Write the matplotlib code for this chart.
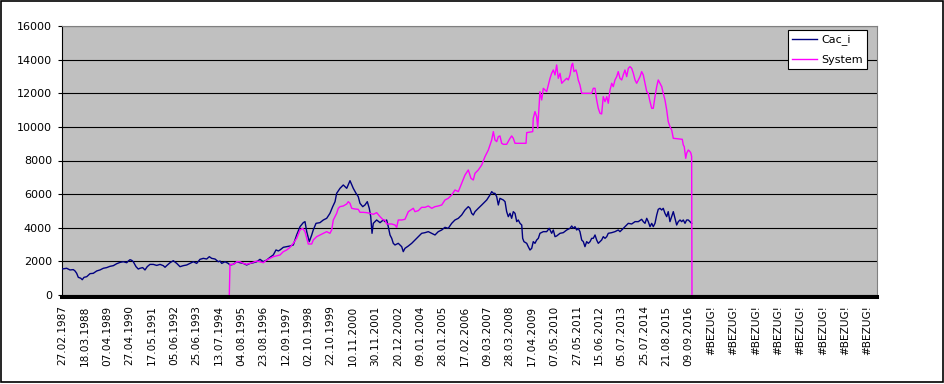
import matplotlib
matplotlib.use("Agg")
import matplotlib.pyplot as plt
from matplotlib.patches import Rectangle

plt.rcParams["font.family"] = ["DejaVu Sans"]

# ---- data (x = trading-day index on the category axis) ----
cac_x = [0, 51, 89, 128, 148, 167, 186, 214, 232, 252, 284, 322, 360, 400, 438, 477, 516, 554, 593, 632,
         671, 709, 749, 767, 787, 807, 825, 857, 883, 903, 934, 961, 988, 1019, 1058, 1097, 1136, 1174, 1194, 1213,
         1252, 1290,
         1330, 1368, 1406, 1446, 1484, 1523, 1562, 1600, 1639, 1678, 1709, 1736, 1775, 1813, 1833, 1853, 1891, 1929,
         1949, 1988, 2027, 2065, 2104, 2143, 2182, 2220, 2260, 2298, 2336, 2376, 2414, 2452, 2484, 2511,
         2530, 2569, 2608, 2647, 2685, 2724, 2763, 2801, 2821, 2841, 2871, 2899, 2917, 2949, 2995, 3034, 3073, 3111,
         3143, 3170, 3189, 3228, 3266, 3306, 3344, 3382, 3414, 3440, 3460, 3492, 3518, 3545, 3568, 3585, 3600, 3615,
         3654, 3693, 3731,
         3751, 3770, 3789, 3809, 3829, 3847, 3867, 3905, 3945, 3963, 3983, 4022, 4061, 4099, 4138, 4177, 4216, 4254,
         4294, 4332, 4370, 4410, 4448, 4486, 4526, 4564, 4603, 4642, 4681, 4719, 4739, 4758, 4777, 4797, 4835, 4875,
         4913, 4933, 4971, 4991, 5010,
         5029, 5049, 5068, 5087, 5126, 5146, 5165, 5184, 5204, 5223, 5242, 5262, 5282, 5300, 5320, 5340, 5351, 5366,
         5398, 5416, 5436, 5456, 5474, 5494, 5514, 5533, 5552, 5591, 5630, 5660, 5688, 5707, 5727, 5746, 5785, 5823,
         5863, 5901, 5921, 5939, 5959, 5979, 5997, 6017, 6037, 6056, 6075, 6095, 6114, 6134, 6153, 6172, 6192,
         6211, 6230, 6250, 6269, 6288, 6308, 6328, 6346, 6386, 6424, 6462, 6482, 6502, 6540, 6579, 6618, 6657, 6695,
         6734, 6753, 6773, 6793, 6811, 6831, 6851, 6869, 6889, 6909, 6927, 6947, 6967, 6985, 7005, 7025, 7043, 7063,
         7083, 7102, 7121, 7141, 7160, 7180, 7199, 7218, 7238, 7257, 7276, 7296, 7315]
cac_y = [1547, 1590, 1490, 1510, 1430, 1290, 1050, 1000, 910, 1050, 1090, 1270, 1290, 1430, 1490, 1590, 1630, 1705, 1745, 1860,
         1940, 1980, 1920, 2020, 2100, 2060, 1980, 1685, 1545, 1590, 1630, 1490, 1690, 1820, 1820, 1760, 1820, 1745, 1650, 1745,
         1920, 2040,
         1880, 1685, 1745, 1785, 1880, 1980, 1880, 2120, 2180, 2140, 2280, 2180, 2140, 1980, 2020, 1880, 1980, 1880,
         1785, 1825, 1980, 1920, 1880, 1785, 1880, 1920, 1980, 2120, 1980, 2080, 2240, 2380, 2680, 2620,
         2677, 2836, 2875, 2915, 2975, 3570, 4065, 4303, 4363, 3768, 3173, 3570, 3867, 4263, 4303, 4462, 4561, 4858,
         5255, 5552, 6048, 6346, 6544, 6346, 6800, 6346, 6048, 5850, 5453, 5255, 5354, 5552, 5156, 4660, 3668, 4263,
         4462, 4303, 4462,
         4363, 4462, 4065, 3570, 3371, 3074, 2975, 3074, 2875, 2578, 2776, 2915, 3074, 3272, 3470, 3669, 3708, 3768,
         3669, 3570, 3768, 3867, 4025, 3966, 4263, 4462, 4561, 4759, 5057, 5255, 5156, 4858, 4759, 4957, 5156, 5354,
         5552, 5651, 5949, 6147, 6048,
         6048, 5850, 5354, 5750, 5651, 5552, 4957, 4660, 4858, 4561, 4957, 4858, 4363, 4462, 4263, 4164, 3371, 3173,
         3074, 2875, 2677, 2776, 3173, 3074, 3272, 3371, 3669, 3768, 3768, 3966, 3669, 3867, 3470, 3510, 3669, 3708,
         3867, 3966, 4105, 3966, 4065, 3867, 3966, 3768, 3272, 3173, 2875, 3173, 3074, 3173, 3371, 3371, 3570,
         3272, 3074, 3173, 3272, 3470, 3371, 3470, 3669, 3708, 3768, 3867, 3768, 3867, 4065, 4263, 4224, 4363, 4363,
         4502, 4363, 4263, 4561, 4363, 4065, 4263, 4065, 4263, 4759, 5096, 5156, 5057, 5156, 4858, 4660, 4957, 4363,
         4660, 4957, 4561, 4164, 4363, 4462, 4363, 4462, 4263, 4462, 4462, 4363, 4263]

sys_x = [1941, 1949, 1988, 2007, 2027, 2065, 2104, 2143, 2182, 2220, 2260, 2298, 2336, 2376, 2414, 2452, 2492,
         2530, 2569, 2608, 2647, 2685, 2724, 2763, 2794, 2821, 2859, 2899, 2917, 2957, 2995, 3034, 3073, 3111, 3131,
         3150, 3189, 3208, 3228, 3266, 3306, 3324, 3344, 3364, 3402, 3440, 3460, 3499, 3538, 3577, 3615, 3654, 3693,
         3731,
         3751, 3770, 3829, 3867, 3887, 3905, 3945, 3983, 4022, 4061, 4080, 4099, 4138, 4177, 4216, 4254, 4294, 4332,
         4370, 4410, 4448, 4486, 4526, 4564, 4603, 4642, 4681, 4719, 4750, 4777, 4797, 4835, 4875, 4913, 4952, 4991,
         5010,
         5029, 5049, 5068, 5087, 5107, 5126, 5165, 5204, 5223, 5242, 5262, 5390, 5398, 5468, 5474, 5494, 5514, 5526,
         5541, 5552, 5572, 5591, 5610, 5630, 5649, 5669, 5688, 5707, 5727, 5746, 5765, 5785, 5805, 5823, 5843, 5863,
         5881, 5901, 5921, 5932, 5947, 5971, 5986, 5997, 6017, 6037, 6153, 6172,
         6192, 6211, 6230, 6250, 6269, 6288, 6308, 6328, 6346, 6366, 6386, 6404, 6424, 6444, 6462, 6482, 6502, 6520,
         6540, 6560, 6579, 6598, 6618, 6637, 6657, 6676, 6695, 6715, 6734, 6753, 6773, 6793, 6811, 6831, 6851, 6869,
         6889, 6909, 6927, 6947, 6967, 6985, 7005, 7025, 7043, 7063, 7083, 7102, 7206, 7218, 7229, 7246, 7257, 7276,
         7296, 7307, 7315, 7319]
sys_y = [0, 1825, 1825, 1880, 1980, 1980, 1880, 1825, 1880, 1945, 2020, 1980, 1920, 2080, 2180, 2280, 2330,
         2380, 2578, 2677, 2836, 3074, 3371, 3867, 3966, 3768, 3034, 3034, 3272, 3470, 3570, 3668, 3768, 3668, 3867,
         4462, 4858, 5156, 5255, 5295, 5414, 5552, 5453, 5156, 5116, 5096, 4918, 4918, 4898, 4858, 4799, 4898, 4660,
         4462,
         4462, 4224, 4224, 4164, 4025, 4462, 4462, 4502, 4957, 5096, 5156, 4957, 5017, 5215, 5215, 5295, 5156, 5255,
         5295, 5354, 5651, 5750, 5949, 6247, 6147, 6643, 7139, 7436, 6941, 6841, 7238, 7436, 7734, 8230, 8626, 9221,
         9717,
         9221, 9122, 9420, 9460, 9023, 8963, 8963, 9321, 9460, 9321, 9023, 9023, 9657, 9717, 10510, 10907, 10609, 9915,
         11204, 12096, 11601, 12294, 12195, 12096, 12493, 12890, 13187, 13385, 13088, 13682, 12890, 13187, 12592, 12691, 12791, 12890,
         12791, 13088, 13682, 13782, 13286, 13385, 13088, 12791, 12493, 11997, 11997, 12294,
         12295, 11601, 11105, 10807, 10768, 11799, 11502, 11799, 11403, 12195, 12592, 12394, 12791, 12989, 13286, 12890, 12791, 13088,
         13385, 12989, 13484, 13583, 13484, 13187, 12791, 12592, 12791, 12989, 13286, 13088, 12592, 12096, 11997, 11502, 11105, 11105,
         11799, 12394, 12791, 12592, 12394, 11997, 11601, 11006, 10312, 10015, 9816, 9321, 9261, 8924, 8824, 8130, 8428, 8626,
         8527, 8428, 8229, 0]

tick_labels = ["27.02.1987", "18.03.1988", "07.04.1989", "27.04.1990", "17.05.1991", "05.06.1992",
               "25.06.1993", "13.07.1994", "04.08.1995", "23.08.1996", "12.09.1997", "02.10.1998",
               "22.10.1999", "10.11.2000", "30.11.2001", "20.12.2002", "09.01.2004", "28.01.2005",
               "17.02.2006", "09.03.2007", "28.03.2008", "17.04.2009", "07.05.2010", "27.05.2011",
               "15.06.2012", "05.07.2013", "25.07.2014", "21.08.2015", "09.09.2016"] + ["#BEZUG!"] * 8
label_step = 260          # categories between tick labels
n_categories = 9466       # total categories on the axis
y_ticks = list(range(0, 16001, 2000))

# ---- figure ----
W, H = 945, 384
fig = plt.figure(figsize=(W / 100, H / 100), dpi=100)
fig.patch.set_facecolor("white")
ax = fig.add_axes([62.3 / W, 1 - 295 / H, 814.4 / W, 269 / H])
ax.set_facecolor("#C0C0C0")

ax.plot(cac_x, cac_y, color="#000080", lw=1.0, label="Cac_i", zorder=3)
ax.plot(sys_x, sys_y, color="#FF00FF", lw=1.0, label="System", zorder=3)

ax.set_xlim(0, n_categories)
ax.set_ylim(0, 16000)
ax.set_yticks(y_ticks)
ax.set_yticklabels([str(v) for v in y_ticks])
ax.yaxis.grid(True, color="black", lw=0.8)
ax.set_axisbelow(True)

ax.set_xticks([i * label_step for i in range(len(tick_labels))])
ax.set_xticklabels(tick_labels)

ax.tick_params(axis="y", direction="out", length=3, width=0.8, color="black", pad=4.5, labelsize=8)
ax.tick_params(axis="x", length=0, pad=6.0, labelsize=7.6, labelrotation=90)
for lab in ax.get_xticklabels():
    lab.set_ha("center")
    lab.set_va("top")

for s in ("top", "right"):
    ax.spines[s].set_color("#808080")
    ax.spines[s].set_linewidth(0.8)
ax.spines["left"].set_color("black")
ax.spines["left"].set_linewidth(0.8)
ax.spines["bottom"].set_color("black")
ax.spines["bottom"].set_linewidth(2.9)
ax.spines["bottom"].set_position(("outward", 1.5))

leg = ax.legend(loc="upper right", bbox_to_anchor=(0.9885, 0.985), frameon=True, fancybox=False,
                edgecolor="black", framealpha=1, borderaxespad=0, handlelength=2.2,
                handletextpad=0.4, labelspacing=0.85, borderpad=0.4, fontsize=8)
leg.get_frame().set_linewidth(0.8)

fig.patches.append(Rectangle((0.0008, 0.004), 0.9970, 0.9935, transform=fig.transFigure,
                             fill=False, edgecolor="black", lw=1.2))

fig.savefig("out.png", dpi=100)
